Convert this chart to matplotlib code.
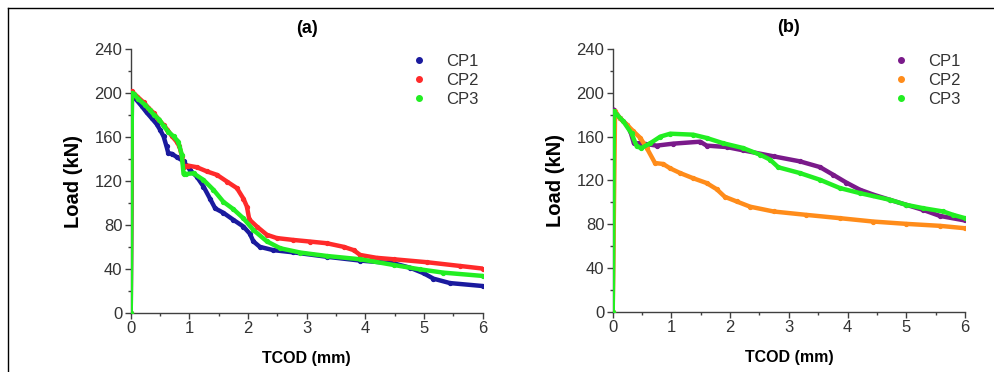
import matplotlib
matplotlib.use("Agg")
import matplotlib.pyplot as plt
from matplotlib.lines import Line2D
from matplotlib.ticker import MultipleLocator

plt.rcParams['font.family'] = ['Liberation Sans', 'DejaVu Sans']

# ---- Panel (a) ----
a_cp1_x = [0, 0.02, 0.07, 0.19, 0.27, 0.36, 0.44, 0.50, 0.56, 0.61, 0.64, 0.70, 0.78, 0.90,
           1.01, 1.125, 1.24, 1.35, 1.44, 1.58, 1.75, 1.92, 2.03, 2.09, 2.20, 2.43, 2.77,
           3.34, 3.91, 4.48, 4.76, 4.99, 5.16, 5.44, 6.0]
a_cp1_y = [0, 200, 195.6, 188, 182.5, 177, 172, 166.7, 160.6, 151.5, 145.4, 144.8, 142, 138,
           130, 124, 115, 104, 95, 91, 84.6, 78.5, 72, 65, 60, 57, 55,
           51, 47.5, 45, 41, 36, 31, 27, 24.3]

a_cp2_x = [0, 0.02, 0.11, 0.22, 0.30, 0.39, 0.47, 0.56, 0.625, 0.70, 0.78, 0.83, 0.87, 0.90,
           0.98, 1.125, 1.30, 1.47, 1.64, 1.81, 1.92, 1.98, 2.02, 2.15, 2.32, 2.49, 2.77,
           3.06, 3.34, 3.63, 3.80, 3.91, 4.19, 4.48, 5.05, 5.61, 6.0]
a_cp2_y = [0, 201.7, 197, 191.6, 186.8, 182, 176.4, 171, 166.7, 161, 156, 151.5, 143, 133,
           134, 132.6, 128.7, 125.6, 119.5, 113.5, 104, 96.7, 85, 78.5, 71, 68, 66.3,
           64.8, 63.3, 60, 57, 52.6, 50, 48.7, 46, 42.6, 40.2]

a_cp3_x = [0, 0.02, 0.057, 0.13, 0.24, 0.32, 0.40, 0.49, 0.56, 0.64, 0.73, 0.81, 0.87, 0.90,
           0.95, 1.07, 1.24, 1.41, 1.58, 1.75, 1.92, 2.09, 2.32, 2.55, 2.89, 3.34, 3.91,
           4.48, 4.93, 5.33, 6.0]
a_cp3_y = [0, 200, 199, 194.7, 189.5, 185, 180, 175.8, 170, 165, 160.6, 156, 144, 126.5,
           126.5, 127, 121, 112, 101, 94.3, 86, 75.4, 65, 58.7, 54.8, 51.7, 48.7,
           43.5, 39.5, 36.5, 33.5]

# ---- Panel (b) ----
b_cp1_x = [0, 0.02, 0.12, 0.24, 0.30, 0.36, 0.47, 0.75, 1.03, 1.49, 1.60, 1.94, 2.22, 2.74,
           3.19, 3.53, 3.76, 3.98, 4.21, 4.44, 4.72, 5.0, 5.29, 5.57, 6.0]
b_cp1_y = [0, 184.7, 177, 171, 164.9, 154, 154, 151.8, 153.6, 155.4, 151.8, 150.5, 147.5, 142,
           137.4, 132.2, 125, 118, 111.5, 107, 102.3, 97.7, 93, 87.6, 83.4]

b_cp2_x = [0, 0.04, 0.12, 0.24, 0.35, 0.47, 0.58, 0.72, 0.86, 0.98, 1.15, 1.37, 1.60, 1.77,
           1.91, 2.11, 2.34, 2.74, 3.30, 3.87, 4.44, 5.0, 5.57, 6.0]
b_cp2_y = [0, 183, 177, 171, 165, 158.8, 149.6, 135.9, 135, 131, 126.7, 122, 117.6, 112,
           105, 100.8, 96, 91.6, 88.5, 85.5, 82.4, 80.3, 78.5, 76.3]

b_cp3_x = [0, 0.02, 0.18, 0.32, 0.41, 0.49, 0.64, 0.81, 0.98, 1.37, 1.60, 1.88, 2.22, 2.51,
           2.68, 2.82, 3.19, 3.53, 3.87, 4.21, 4.72, 5.0, 5.29, 5.63, 5.80, 6.0]
b_cp3_y = [0, 183, 174, 163, 151, 149.6, 154, 160, 162.7, 161.8, 158.8, 154, 149.6, 143.5,
           139, 132, 126.7, 120.6, 113, 108.4, 102.3, 97.7, 94.6, 91.6, 88.5, 85.5]

labels = ['CP1', 'CP2', 'CP3']
colors_a = ['#1a1a9e', '#ff2a2a', '#22ee22']
colors_b = ['#7a1a8a', '#ff8c1a', '#22ee22']
x_ticks = [0, 1, 2, 3, 4, 5, 6]
y_ticks = [0, 40, 80, 120, 160, 200, 240]

fig = plt.figure(figsize=(9.95, 3.72), dpi=100)
ax_a = fig.add_axes([0.1314, 0.1594, 0.3538, 0.708])
ax_b = fig.add_axes([0.6158, 0.162, 0.354, 0.706])

panels = [
    (ax_a, '(a)', [(a_cp1_x, a_cp1_y), (a_cp2_x, a_cp2_y), (a_cp3_x, a_cp3_y)], colors_a),
    (ax_b, '(b)', [(b_cp1_x, b_cp1_y), (b_cp2_x, b_cp2_y), (b_cp3_x, b_cp3_y)], colors_b),
]

axis_col = '#404040'
for ax, title, series, cols in panels:
    for (xs, ys), c in zip(series, cols):
        ax.plot(xs, ys, color=c, lw=3.2, solid_joinstyle='round', solid_capstyle='round',
                marker='o', ms=2.8, mec=c, mfc=c, zorder=3)
    ax.set_xlim(0, 6)
    ax.set_ylim(0, 240)
    ax.set_xticks(x_ticks)
    ax.set_yticks(y_ticks)
    ax.xaxis.set_minor_locator(MultipleLocator(0.5))
    ax.yaxis.set_minor_locator(MultipleLocator(20))
    for s in ['top', 'right']:
        ax.spines[s].set_visible(False)
    for s in ['left', 'bottom']:
        ax.spines[s].set_color(axis_col)
        ax.spines[s].set_linewidth(1.0)
    ax.tick_params(which='major', direction='out', length=4, width=1, color=axis_col,
                   labelsize=12, labelcolor='#333333', pad=2)
    ax.tick_params(which='minor', direction='out', length=2.5, width=1, color=axis_col)
    ax.set_xlabel('TCOD (mm)', fontsize=11.5, fontweight='bold', labelpad=11)
    ax.set_ylabel('Load (kN)', fontsize=14.5, fontweight='bold', labelpad=8)
    ax.set_title(title, fontsize=13, fontweight='bold', pad=12)
    handles = [Line2D([], [], ls='none', marker='o', ms=4, color=c) for c in cols]
    ax.legend(handles, labels, loc='upper right', frameon=False, fontsize=12,
              handletextpad=1.0, handlelength=1.2, labelspacing=0.25,
              bbox_to_anchor=(1.03, 1.04), labelcolor='#333333')

# Outer frame (left and top edges)
fig.add_artist(Line2D([0.008, 0.008], [0.0, 0.978], transform=fig.transFigure, color='black', lw=1))
fig.add_artist(Line2D([0.008, 1.0], [0.978, 0.978], transform=fig.transFigure, color='black', lw=1))

fig.savefig('out.png', dpi=100)
